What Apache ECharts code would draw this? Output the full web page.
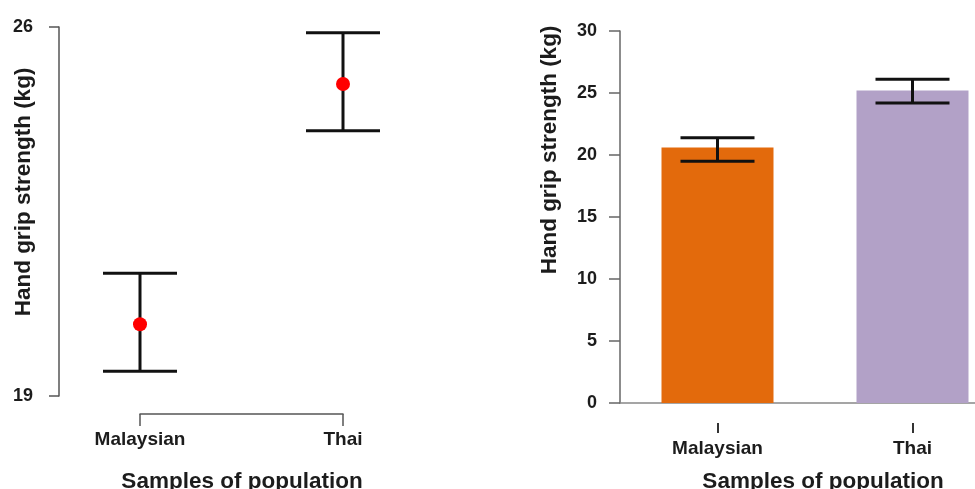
<!DOCTYPE html>
<html>
<head>
<meta charset="utf-8">
<script src="https://cdn.jsdelivr.net/npm/echarts@6/dist/echarts.min.js"></script>
<style>
  html, body { margin: 0; padding: 0; background: #fff; }
  #chart { width: 975px; height: 489px; }
</style>
</head>
<body>
<div id="chart"></div>
<script>
// populations
var categories = ['Malaysian', 'Thai'];

// left panel: mean with error bars
var pointMeans = [20.36, 24.92];
var pointLower = [19.47, 24.03];
var pointUpper = [21.33, 25.89];
var pointTicks = [19, 26];

// right panel: bars with error bars
var barMeans = [20.6, 25.2];
var barLower = [19.5, 24.2];
var barUpper = [21.4, 26.1];
var barColors = ['#e36a0c', '#b2a1c7'];

var font = '"Liberation Sans", Arial, sans-serif';
var textColor = '#1c1c1c';

function errorBar(params, api) {
    var idx = api.value(0);
    var lo = api.coord([idx, api.value(1)]);
    var hi = api.coord([idx, api.value(2)]);
    var hw = 37;
    var st = {stroke: '#111', lineWidth: 3};
    return {
        type: 'group',
        children: [
            {type: 'line', shape: {x1: lo[0], y1: lo[1], x2: hi[0], y2: hi[1]}, style: st},
            {type: 'line', shape: {x1: lo[0] - hw, y1: lo[1], x2: lo[0] + hw, y2: lo[1]}, style: st},
            {type: 'line', shape: {x1: hi[0] - hw, y1: hi[1], x2: hi[0] + hw, y2: hi[1]}, style: st}
        ]
    };
}

function titleText(text, x, y, rot) {
    return {
        type: 'text', x: x, y: y, rotation: rot || 0,
        style: {
            text: text, font: 'bold 22.5px ' + font, fill: textColor,
            align: 'center', verticalAlign: 'middle',
            textAlign: 'center', textVerticalAlign: 'middle'
        }
    };
}

var labelStyle = {fontSize: 19, fontWeight: 'bold', color: textColor, fontFamily: font};
var numStyle = {fontSize: 18, fontWeight: 'bold', color: textColor, fontFamily: font};

var myChart = echarts.init(document.getElementById('chart'));
var option = {
    animation: false,
    backgroundColor: '#fff',
    textStyle: {fontFamily: font},
    grid: [
        {left: 140, top: 27, width: 203, height: 369, outerBoundsMode: 'none', containLabel: false},
        {left: 620, top: 31, width: 390, height: 372, outerBoundsMode: 'none', containLabel: false}
    ],
    xAxis: [{
        gridIndex: 0, type: 'category', data: categories, boundaryGap: false, offset: 18,
        axisLine: {show: true, lineStyle: {color: '#555', width: 1.5}},
        axisTick: {show: true, length: 12, lineStyle: {color: '#555', width: 1.5}},
        axisLabel: Object.assign({margin: 16}, labelStyle),
        splitLine: {show: false}
    }, {
        gridIndex: 1, type: 'category', data: categories,
        axisLine: {show: true, lineStyle: {color: '#888', width: 1.5}},
        axisTick: {show: false}, axisLabel: {show: false}, splitLine: {show: false}
    }, {
        gridIndex: 1, type: 'category', data: categories, position: 'bottom', offset: 20,
        axisLine: {show: false},
        axisTick: {show: true, alignWithLabel: true, length: 10, lineStyle: {color: '#333', width: 2}},
        axisLabel: Object.assign({margin: 16}, labelStyle),
        splitLine: {show: false}
    }],
    yAxis: [{
        gridIndex: 0, type: 'value', min: 19, max: 26, offset: 81,
        axisLine: {show: true, lineStyle: {color: '#555', width: 1.5}},
        axisTick: {show: true, length: 10, customValues: pointTicks, lineStyle: {color: '#555', width: 1.5}},
        axisLabel: Object.assign({margin: 26, customValues: pointTicks}, numStyle),
        splitLine: {show: false}
    }, {
        gridIndex: 1, type: 'value', min: 0, max: 30, interval: 5,
        axisLine: {show: true, lineStyle: {color: '#666', width: 1.5}},
        axisTick: {show: true, length: 11, lineStyle: {color: '#666', width: 1.5}},
        axisLabel: Object.assign({margin: 23}, numStyle),
        splitLine: {show: false}
    }],
    series: [{
        type: 'custom', xAxisIndex: 0, yAxisIndex: 0,
        renderItem: errorBar, clip: false, z: 2,
        data: categories.map(function (c, i) { return [i, pointLower[i], pointUpper[i]]; })
    }, {
        type: 'scatter', xAxisIndex: 0, yAxisIndex: 0,
        symbolSize: 14, itemStyle: {color: '#ff0000', opacity: 1}, z: 3,
        data: pointMeans
    }, {
        type: 'bar', xAxisIndex: 1, yAxisIndex: 1, barWidth: 112,
        data: barMeans.map(function (v, i) { return {value: v, itemStyle: {color: barColors[i]}}; })
    }, {
        type: 'custom', xAxisIndex: 1, yAxisIndex: 1,
        renderItem: errorBar, clip: false, z: 3,
        data: categories.map(function (c, i) { return [i, barLower[i], barUpper[i]]; })
    }],
    graphic: [
        titleText('Hand grip strength (kg)', 24, 192, Math.PI / 2),
        titleText('Samples of population', 242, 482),
        titleText('Hand grip strength (kg)', 550, 150, Math.PI / 2),
        titleText('Samples of population', 823, 482)
    ]
};
myChart.setOption(option);
</script>
</body>
</html>
